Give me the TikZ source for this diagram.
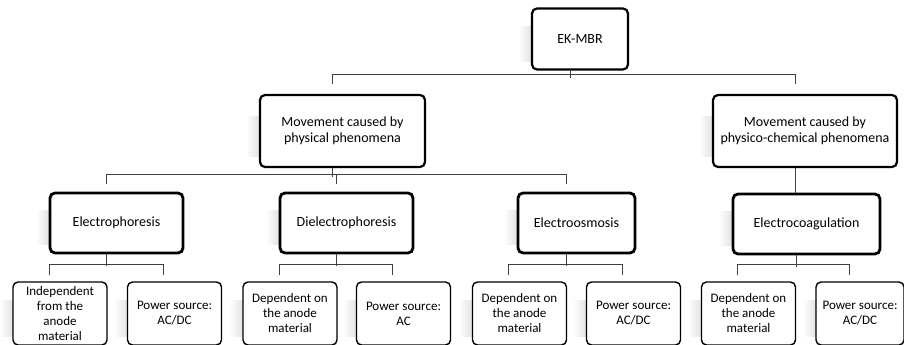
\documentclass[tikz,border=0pt]{standalone}
\usepackage{fontspec}
\setmainfont{Carlito}
\usetikzlibrary{backgrounds}

\tikzset{
  box/.style={draw, fill=white, rounded corners=5pt, align=center, inner sep=2pt,
    font=\fontsize{14}{16}\selectfont},
  topbox/.style={box, line width=2.2pt},
  groupbox/.style={box, line width=2.8pt},
  leafbox/.style={box, line width=1.4pt, minimum width=94pt, minimum height=63pt,
    font=\fontsize{13}{15}\selectfont},
  link/.style={draw=black!75, line width=0.9pt},
}

\begin{document}
\begin{tikzpicture}[x=1pt,y=-1pt]
\useasboundingbox (0,0) rectangle (904,345);

\node[topbox, minimum width=96pt, minimum height=61pt] (root) at (580,39) {EK-MBR};

\begin{scope}[every node/.style={topbox, minimum height=72pt}]
\node[minimum width=165pt] (phys) at (342.5,131) {Movement caused by\\physical phenomena};
\node[minimum width=184pt] (chem) at (805,131) {Movement caused by\\physico-chemical phenomena};
\end{scope}

\begin{scope}[every node/.style={groupbox, minimum height=60pt}]
\node[minimum width=133pt] (ephor) at (116.5,223) {Electrophoresis};
\node[minimum width=133pt] (dphor) at (346.5,223) {Dielectrophoresis};
\node[minimum width=117pt] (eosm) at (576.5,223) {Electroosmosis};
\node[minimum width=147pt] (ecoag) at (806.5,224) {Electrocoagulation};
\end{scope}

\begin{scope}[every node/.style={leafbox}]
\node (ep1) at (60,313.5) {Independent\\from the\\anode\\material};
\node (ep2) at (174.5,313.5) {Power source:\\AC/DC};
\node (de1) at (290,313.5) {Dependent on\\the anode\\material};
\node (de2) at (403.5,313.5) {Power source:\\AC};
\node (eo1) at (519.5,313.5) {Dependent on\\the anode\\material};
\node (eo2) at (633.5,313.5) {Power source:\\AC/DC};
\node (ec1) at (748.5,313.5) {Dependent on\\the anode\\material};
\node[minimum width=88pt] (ec2) at (860,313.5) {Power source:\\AC/DC};
\end{scope}

\begin{scope}[on background layer]
\foreach \n in {root,phys,chem,ephor,dphor,eosm,ecoag,ep1,ep2,de1,de2,eo1,eo2,ec1,ec2}{
  \path (\n.north west) -- (\n.south west) coordinate[pos=0.3] (s1) coordinate[pos=0.85] (s2);
  \shade[left color=white, right color=black!14] ([xshift=-13pt]s1) rectangle ([xshift=4pt]s2);
}
\end{scope}

% tree links
\draw[link] ([xshift=-10pt]root.south) -- ++(0pt,-7pt);
\draw[link] ([xshift=-10pt,yshift=10pt]phys.north) -- ++(0pt,9pt) -| ([xshift=-10pt,yshift=10pt]chem.north);

\draw[link] ([xshift=-10pt]phys.south) -- ++(0pt,-9pt);
\draw[link] ([xshift=-10pt,yshift=8pt]ephor.north) -- ++(0pt,9pt) -| ([xshift=-10pt,yshift=8pt]eosm.north);
\draw[link] ([xshift=-10pt,yshift=8pt]dphor.north) -- ++(0pt,9pt);
\draw[link] ([xshift=-10pt]chem.south) -- ([xshift=-10pt]chem.south |- ecoag.north);

\foreach \p/\a/\b in {ephor/ep1/ep2, dphor/de1/de2, eosm/eo1/eo2, ecoag/ec1/ec2}{
  \draw[link] ([xshift=-10pt]\p.south) -- ++(0pt,-12pt);
  \draw[link] ([xshift=-11pt,yshift=6pt]\a.north) -- ++(0pt,11pt) -| ([xshift=-11pt,yshift=6pt]\b.north);
}

\end{tikzpicture}
\end{document}
